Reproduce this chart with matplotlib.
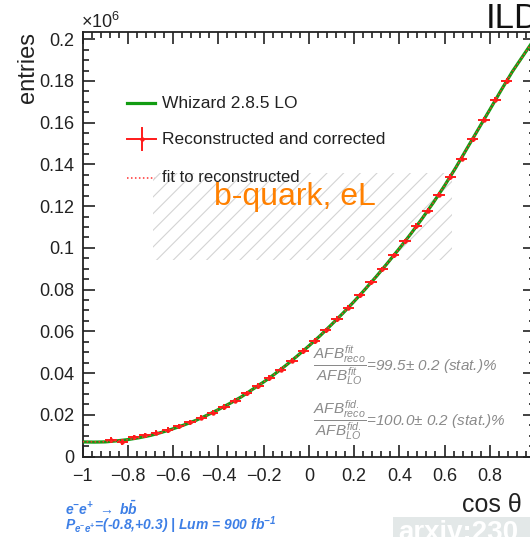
import matplotlib
matplotlib.use("Agg")
import matplotlib.pyplot as plt
from matplotlib.ticker import MultipleLocator, FuncFormatter
from matplotlib.patches import Rectangle
from matplotlib.lines import Line2D

plt.rcParams['font.family'] = ['Liberation Sans', 'DejaVu Sans']
plt.rcParams['mathtext.fontset'] = 'custom'
plt.rcParams['mathtext.rm'] = 'Liberation Sans'
plt.rcParams['mathtext.it'] = 'Liberation Sans:italic'
plt.rcParams['mathtext.bf'] = 'Liberation Sans:bold:italic'
plt.rcParams['hatch.linewidth'] = 0.8

# ---------------- data (entries in units of 10^6) ----------------
lo_x = [-1.0, -0.95, -0.9, -0.85, -0.8, -0.75, -0.7, -0.65, -0.6, -0.55, -0.5,
        -0.45, -0.4, -0.35, -0.3, -0.25, -0.2, -0.15, -0.1, -0.05, 0.0,
        0.05, 0.1, 0.15, 0.2, 0.25, 0.3, 0.35, 0.4, 0.45, 0.5,
        0.55, 0.6, 0.65, 0.7, 0.75, 0.8, 0.85, 0.9, 0.95, 1.0]
lo_y = [0.0070, 0.0069, 0.0070, 0.0075, 0.0081, 0.0090, 0.0101, 0.0116, 0.0133, 0.0152, 0.0173,
        0.0198, 0.0225, 0.0254, 0.0285, 0.0321, 0.0357, 0.0396, 0.0438, 0.0483, 0.0530,
        0.0579, 0.0632, 0.0686, 0.0743, 0.0803, 0.0865, 0.0930, 0.0997, 0.1066, 0.1139,
        0.1216, 0.1298, 0.1385, 0.1478, 0.1570, 0.1662, 0.1755, 0.1845, 0.1925, 0.2005]
fit_y = [0.0071, 0.0070, 0.0071, 0.0075, 0.0081, 0.0090, 0.0101, 0.0116, 0.0133, 0.0152, 0.0173,
         0.0198, 0.0225, 0.0254, 0.0285, 0.0320, 0.0357, 0.0396, 0.0438, 0.0483, 0.0530,
         0.0579, 0.0632, 0.0686, 0.0743, 0.0803, 0.0865, 0.0930, 0.0997, 0.1066, 0.1139,
         0.1216, 0.1298, 0.1385, 0.1478, 0.1570, 0.1662, 0.1755, 0.1845, 0.1925, 0.2005]

reco_x = [-0.875, -0.825, -0.775, -0.725, -0.675, -0.625, -0.575, -0.525, -0.475,
          -0.425, -0.375, -0.325, -0.275, -0.225, -0.175, -0.125, -0.075, -0.025,
          0.025, 0.075, 0.125, 0.175, 0.225, 0.275, 0.325, 0.375, 0.425,
          0.475, 0.525, 0.575, 0.625, 0.675, 0.725, 0.775, 0.825, 0.875]
reco_y = [0.0080, 0.0069, 0.0092, 0.0101, 0.0115, 0.0128, 0.0145, 0.0163, 0.0186,
          0.0210, 0.0238, 0.0268, 0.0302, 0.0338, 0.0376, 0.0416, 0.0459, 0.0505,
          0.0553, 0.0604, 0.0658, 0.0714, 0.0772, 0.0834, 0.0897, 0.0964, 0.1031,
          0.1104, 0.1178, 0.1255, 0.1340, 0.1428, 0.1520, 0.1615, 0.1710, 0.1800]
reco_yerr = 0.0013
bin_half_width = 0.025

W, H = 530, 537
def fx(px):
    return px / W
def fy(py):
    return 1 - py / H

fig = plt.figure(figsize=(W / 100, H / 100), dpi=100)
ax = fig.add_axes([fx(82.7), 1 - 456.5 / H, (535 - 82.7) / W, (456.5 - 31.7) / H])

ax.set_xlim(-1, 1)
ax.set_ylim(0, 0.2036)

# hatched box
ax.add_patch(Rectangle((-0.689, 0.0942), 0.689 + 0.633, 0.136 - 0.0942,
                       facecolor='none', edgecolor='#d4d4d4', lw=0, hatch='//', zorder=1))

ax.plot(lo_x, lo_y, color='#129c12', lw=2.3, zorder=3)
ax.errorbar(reco_x, reco_y, xerr=bin_half_width, yerr=reco_yerr, fmt='o', ms=2.2,
            color='#ff1a1a', ecolor='#ff1a1a', elinewidth=1.4, capsize=0, zorder=4)
ax.plot(lo_x, fit_y, color='#ff3030', lw=1.1, ls=(0, (1, 1.6)), zorder=5)

# axes styling
for s in ax.spines.values():
    s.set_linewidth(1.3)
    s.set_color('#222222')
ax.xaxis.set_major_locator(MultipleLocator(0.2))
ax.xaxis.set_minor_locator(MultipleLocator(0.04))
ax.yaxis.set_major_locator(MultipleLocator(0.02))
ax.yaxis.set_minor_locator(MultipleLocator(0.005))

def fmt(v, pos):
    s = f"{round(v, 6):g}"
    if s == "-0":
        s = "0"
    return s.replace('-', '\u2212')
ax.xaxis.set_major_formatter(FuncFormatter(fmt))
ax.yaxis.set_major_formatter(FuncFormatter(fmt))
ax.tick_params(which='both', direction='in', top=True, right=True, colors='#333333',
               labelcolor='#222222', width=1.3)
ax.tick_params(which='major', length=8.6, labelsize=13)
ax.tick_params(which='minor', length=4.3)
ax.tick_params(axis='x', which='major', pad=8)
ax.tick_params(axis='y', which='major', pad=6)

# axis titles and decorations
fig.text(fx(17), fy(32), 'entries', rotation=90, ha='left', va='top', fontsize=17, color='#222222')
fig.text(fx(462), fy(512), 'cos \u03b8', ha='left', va='baseline', fontsize=18, color='#222222')
fig.text(fx(81), fy(28), r'$\times10^{6}$', ha='left', va='baseline', fontsize=13, color='#222222')
fig.text(fx(486), fy(28), 'ILD', ha='left', va='baseline', fontsize=25, color='#111111')

# legend (manual)
fig.add_artist(Line2D([fx(127), fx(155)], [fy(103), fy(103)], color='#129c12', lw=2.3))
fig.text(fx(162), fy(103), 'Whizard 2.8.5 LO', ha='left', va='center', fontsize=12.5, color='#222222')
fig.add_artist(Line2D([fx(127), fx(156)], [fy(139), fy(139)], color='#ff1a1a', lw=1.4))
fig.add_artist(Line2D([fx(141.5), fx(141.5)], [fy(128), fy(150)], color='#ff1a1a', lw=1.4))
fig.add_artist(Line2D([fx(141.5)], [fy(139)], color='#ff1a1a', marker='o', ms=2.2))
fig.text(fx(162), fy(140), 'Reconstructed and corrected', ha='left', va='center', fontsize=12.5, color='#222222')
fig.add_artist(Line2D([fx(127), fx(155)], [fy(178), fy(178)], color='#ff3030', lw=1.1, ls=(0, (1, 1.6))))
fig.text(fx(162), fy(177), 'fit to reconstructed', ha='left', va='center', fontsize=12, color='#222222')

fig.text(fx(214), fy(205), 'b-quark, eL', ha='left', va='baseline', fontsize=23, color='#ff8000')

# AFB ratios
fig.text(fx(313), fy(370), r'$\dfrac{AFB^{fit}_{reco}}{AFB^{fit}_{LO}}$=99.5$\pm$ 0.2 (stat.)%',
         ha='left', va='baseline', fontsize=11, style='italic', color='#8a8a8a')
fig.text(fx(313), fy(425), r'$\dfrac{AFB^{fid.}_{reco}}{AFB^{fid.}_{LO}}$=100.0$\pm$ 0.2 (stat.)%',
         ha='left', va='baseline', fontsize=11, style='italic', color='#8a8a8a')

# process info
blue = '#3d7fe6'
fig.text(fx(65), fy(515), r'$\mathbf{e^{-}e^{+}\ \rightarrow\ b\bar{b}}$', ha='left', va='baseline',
         fontsize=10, color=blue)
fig.text(fx(65), fy(530), r'$\mathbf{P_{e^{-}e^{+}}}$=(-0.8,+0.3) | Lum = 900 fb$\mathbf{^{-1}}$',
         ha='left', va='baseline', fontsize=10, fontweight='bold', style='italic', color=blue)

# watermark box
fig.add_artist(Rectangle((fx(393), 0), fx(530) - fx(393), 20 / H, transform=fig.transFigure,
                         facecolor='#e3e8e8', edgecolor='none'))
fig.text(fx(398), -3 / H, 'arxiv:230', ha='left', va='baseline', fontsize=20,
         fontweight='bold', color='white')

fig.savefig('out.png', dpi=100)
